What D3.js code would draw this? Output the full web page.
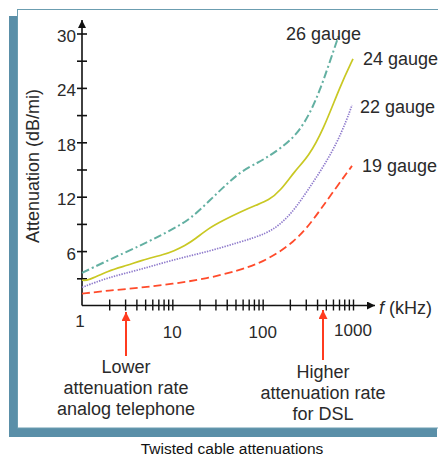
<!DOCTYPE html>
<html>
<head>
<meta charset="utf-8">
<script src="https://cdnjs.cloudflare.com/ajax/libs/d3/7.8.5/d3.min.js"></script>
<style>
  body { margin: 0; background: #fff; }
  svg text { font-family: "Liberation Sans", Arial, sans-serif; fill: #2a2a2a; }
</style>
</head>
<body>
<script>
// chart data (frequency in kHz, attenuation in dB/mi)
var freq26 = [1, 2.5, 4.4, 6.4, 10, 15.7, 26, 40, 58, 90, 110, 156, 238, 335, 432, 534, 690];
var att26  = [3.6, 5.5, 6.6, 7.4, 8.4, 9.5, 11.6, 13.4, 14.8, 15.8, 16.3, 17.3, 18.8, 21.2, 23.8, 26.4, 29.7];

var freq24 = [1, 1.15, 1.95, 3.26, 4.4, 8.3, 10.3, 13.8, 17.8, 25, 36.7, 56, 86, 116, 156, 229, 321, 470, 720, 1000];
var att24  = [2.8, 2.7, 3.85, 4.45, 4.95, 5.65, 6.0, 6.6, 7.3, 8.5, 9.4, 10.3, 11.1, 11.6, 12.6, 14.9, 16.4, 19.4, 24.2, 27.2];

var freq22 = [1, 1.95, 4.4, 10.3, 24, 56, 111, 169, 238, 335, 470, 661, 855, 975];
var att22  = [2.0, 3.1, 3.95, 5.06, 5.9, 7.0, 7.9, 9.2, 10.9, 13.1, 15.3, 17.9, 20.5, 22.1];

var freq19 = [1, 1.95, 4.4, 10.3, 24, 56, 93.5, 143, 218, 306, 432, 661, 975];
var att19  = [1.3, 1.65, 1.95, 2.4, 2.96, 3.9, 4.7, 5.7, 7.0, 8.5, 10.5, 13.1, 15.4];

var seriesNames = ["26 gauge", "24 gauge", "22 gauge", "19 gauge"];

var yTicks = [3, 6, 9, 12, 15, 18, 21, 24, 27, 30];
var yLabels = [6, 12, 18, 24, 30];
var xTicks = [2, 3, 4, 5, 6, 7, 8, 9, 10, 20, 30, 40, 50, 60, 70, 80, 90, 100,
              200, 300, 400, 500, 600, 700, 800, 900, 1000];
var xLabels = ["1", "10", "100", "1000"];

var W = 438, H = 458;
var svg = d3.select("body").append("svg")
    .attr("width", W).attr("height", H)
    .attr("xmlns", "http://www.w3.org/2000/svg");

//the frame: thick blue band left and bottom, thin line on top
svg.append("rect").attr("x", 9).attr("y", 16).attr("width", 428).attr("height", 421)
    .attr("fill", "#5a8fa8");
svg.append("rect").attr("x", 17.5).attr("y", 9.5).attr("width", 425).attr("height", 418.5)
    .attr("fill", "#fff").attr("stroke", "#6b9db0").attr("stroke-width", 1);

var x = d3.scaleLog().domain([1, 1000]).range([82, 353]);
var y = d3.scaleLinear().domain([0, 30]).range([305.5, 33.5]);

//arrow heads
var defs = svg.append("defs");
function arrowMarker(id, color, w, h) {
    defs.append("marker").attr("id", id)
        .attr("viewBox", "0 0 10 10").attr("refX", 10).attr("refY", 5)
        .attr("markerUnits", "userSpaceOnUse")
        .attr("markerWidth", w).attr("markerHeight", h)
        .attr("orient", "auto")
        .append("path").attr("d", "M0,0L10,5L0,10z").attr("fill", color);
}
arrowMarker("axArrow", "#111", 9, 8);
arrowMarker("redArrow", "#ff3b1f", 10, 9);

//axes lines
svg.append("line").attr("x1", x(1)).attr("y1", y(0)).attr("x2", x(1)).attr("y2", 20)
    .attr("stroke", "#111").attr("stroke-width", 1.6).attr("marker-end", "url(#axArrow)");
svg.append("line").attr("x1", x(1)).attr("y1", y(0)).attr("x2", 375).attr("y2", y(0))
    .attr("stroke", "#111").attr("stroke-width", 1.6).attr("marker-end", "url(#axArrow)");

//y axis ticks through the d3 axis
var yAxis = svg.append("g").attr("transform", "translate(" + x(1) + ",0)")
    .call(d3.axisLeft(y).tickValues(yTicks).tickSize(5).tickFormat(""));
yAxis.select(".domain").remove();
yAxis.selectAll(".tick line").attr("x1", -5).attr("x2", 5)
    .attr("stroke", "#111").attr("stroke-width", 1.6);

svg.selectAll(".ylab").data(yLabels).enter().append("text")
    .attr("x", 76).attr("y", function(d){ return y(d) + 8.5; })
    .attr("text-anchor", "end").style("font-size", "17px")
    .text(function(d){ return d; });

//x axis ticks
var xAxis = svg.append("g").attr("transform", "translate(0," + y(0) + ")")
    .call(d3.axisBottom(x).tickValues(xTicks).tickSize(5).tickFormat(""));
xAxis.select(".domain").remove();
xAxis.selectAll(".tick line").attr("y1", -6).attr("y2", 5)
    .attr("stroke", "#111").attr("stroke-width", 1.4);

svg.selectAll(".xlab").data(xLabels).enter().append("text")
    .attr("x", function(d){ return x(+d) - (d == "1" ? 2 : 0); })
    .attr("y", function(d){ return d == "1" ? 327 : (d == "1000" ? 336 : 338); })
    .attr("text-anchor", "middle").style("font-size", "17px")
    .text(function(d){ return d; });

//axis titles
svg.append("text").attr("transform", "translate(39,166) rotate(-90)")
    .attr("text-anchor", "middle").style("font-size", "18px")
    .text("Attenuation (dB/mi)");
var ft = svg.append("text").attr("x", 379).attr("y", 314).style("font-size", "18px");
ft.append("tspan").style("font-style", "italic").text("f");
ft.append("tspan").text("  (kHz)");

//the curves, smoothed
var line = d3.line()
    .x(function(d){ return x(d[0]); })
    .y(function(d){ return y(d[1]); })
    .curve(d3.curveBasis);

var curves = [
    {f: freq26, a: att26, color: "#63b0a2", width: 2, dash: "8,3,2,3"},
    {f: freq24, a: att24, color: "#c9c823", width: 1.7, dash: null},
    {f: freq22, a: att22, color: "#8f7bcc", width: 1.7, dash: "1.4,1.2"},
    {f: freq19, a: att19, color: "#ff4b2b", width: 1.8, dash: "8,4"}
];
curves.forEach(function(c){
    svg.append("path").datum(d3.zip(c.f, c.a))
        .attr("d", line).attr("fill", "none")
        .attr("stroke", c.color).attr("stroke-width", c.width)
        .attr("stroke-dasharray", c.dash);
});

//labels for the gauges
var gaugePos = [[286, 40], [363, 65], [360, 113], [362, 172]];
seriesNames.forEach(function(n, i){
    svg.append("text").attr("x", gaugePos[i][0]).attr("y", gaugePos[i][1])
        .style("font-size", "18px").text(n);
});

//red arrows and notes
function note(cx, tipY, tailY, lines, firstBase) {
    svg.append("line").attr("x1", cx).attr("y1", tailY).attr("x2", cx).attr("y2", tipY)
        .attr("stroke", "#ff3b1f").attr("stroke-width", 2).attr("marker-end", "url(#redArrow)");
    lines.forEach(function(t, i){
        svg.append("text").attr("x", cx).attr("y", firstBase + i * 21)
            .attr("text-anchor", "middle").style("font-size", "18px").text(t);
    });
}
note(126, 312, 356, ["Lower", "attenuation rate", "analog telephone"], 373);
note(323, 310, 360, ["Higher", "attenuation rate", "for DSL"], 378);

//caption
svg.append("text").attr("x", 232).attr("y", 454).attr("text-anchor", "middle")
    .style("font-size", "15.5px").style("fill", "#111")
    .text("Twisted cable attenuations");
</script>
</body>
</html>
